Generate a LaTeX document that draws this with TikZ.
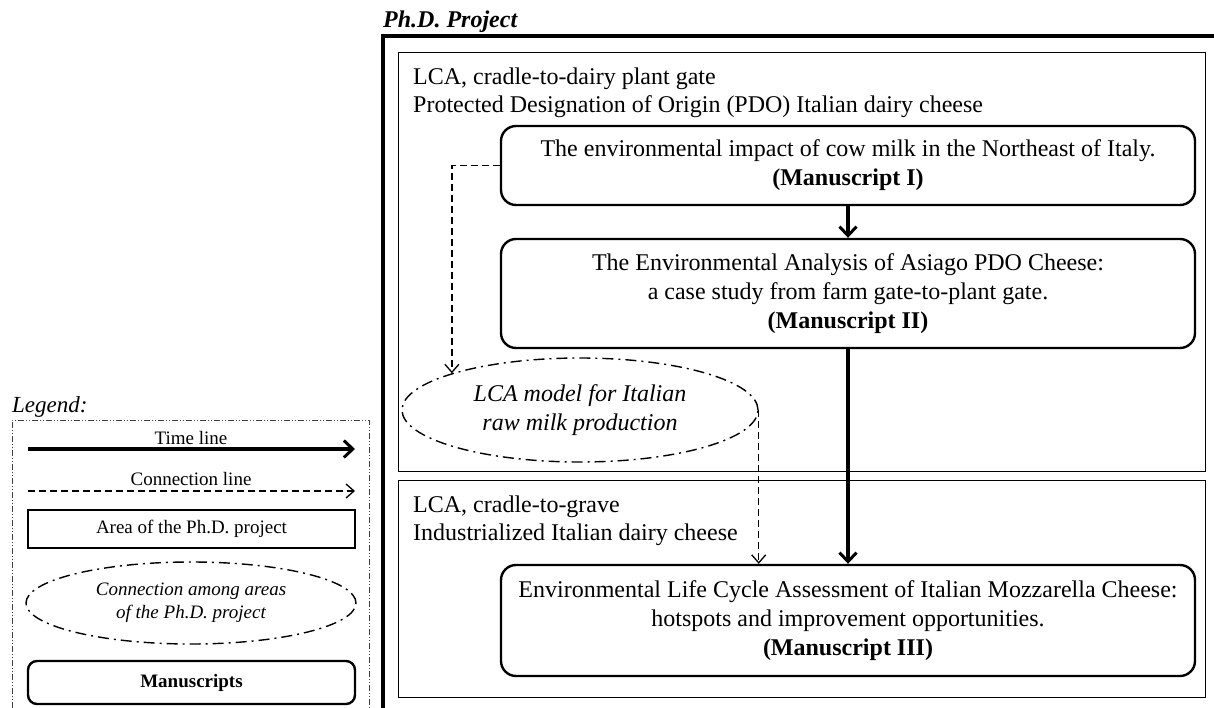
\documentclass[tikz,border=0pt]{standalone}
\usepackage{fontspec}
\setmainfont{Liberation Serif}
\usetikzlibrary{arrows.meta,shapes.geometric}

\tikzset{
  big/.style={font=\fontsize{24}{29}\selectfont},
  small/.style={font=\fontsize{19}{23}\selectfont},
  paper/.style={draw, line width=2.4pt, rounded corners=15pt, align=center,
                inner sep=0pt, big},
  area/.style={draw, line width=1.3pt, inner sep=0pt, anchor=north west},
  linkell/.style={draw, ellipse, line width=1.4pt, inner sep=0pt,
                  dash pattern=on 11pt off 5pt on 2pt off 5pt, align=center},
  timeline/.style={line width=3.2pt, -{Straight Barb[length=9pt,width=17pt,line width=3pt]}},
  linkline/.style={line width=1.3pt, dash pattern=on 7pt off 4pt,
                   -{Straight Barb[length=8pt,width=14pt,line width=1.3pt]}},
  label/.style={inner sep=0pt, anchor=base west, big},
}

\begin{document}
\begin{tikzpicture}[x=1pt, y=-1pt]
\useasboundingbox (0,0) rectangle (1214,708);

% project frame (runs off the page on the right and bottom)
\coordinate (fbl) at (383,708);
\coordinate (ftl) at (383,36);
\coordinate (ftr) at (1214,36);
\draw[line width=3.5pt] (fbl) -- (ftl) -- (ftr);
\node[label, font=\fontsize{24}{29}\selectfont\bfseries\itshape] (ptitle) at (383,28) {Ph.D. Project};

% the two areas
\node[area, minimum width=807pt, minimum height=419pt] (areaA) at (398,52) {};
\node[area, minimum width=807pt, minimum height=217pt] (areaB) at (398,480) {};
\node[label] (areaAt1) at (413,85) {LCA, cradle-to-dairy plant gate};
\node[label] (areaAt2) at (413,113) {Protected Designation of Origin (PDO) Italian dairy cheese};
\node[label] (areaBt1) at (413,512) {LCA, cradle-to-grave};
\node[label] (areaBt2) at (413,540) {Industrialized Italian dairy cheese};

% manuscripts
\node[paper, minimum width=694pt, minimum height=79pt] (m1) at (848,165.5)
  {The environmental impact of cow milk in the Northeast of Italy.\\\textbf{(Manuscript I)}};
\node[paper, minimum width=694pt, minimum height=109pt] (m2) at (848,293.5)
  {The Environmental Analysis of Asiago PDO Cheese:\\a case study from farm gate-to-plant gate.\\\textbf{(Manuscript II)}};
\node[paper, minimum width=694pt, minimum height=111pt] (m3) at (848,620.5)
  {Environmental Life Cycle Assessment of Italian Mozzarella Cheese:\\hotspots and improvement opportunities.\\\textbf{(Manuscript III)}};

% link between the areas
\node[linkell, minimum width=356pt, minimum height=104pt, big] (ell) at (580,410)
  {\itshape LCA model for Italian\\\itshape raw milk production};

% connectors
\draw[timeline] (m1.south) -- (m2.north);
\draw[timeline] (m2.south) -- (m3.north);
\draw[linkline] (m1.west) -| (ell.164);
\draw[linkline] (ell.east) -- (ell.east |- m3.north);

% legend
\node[label, font=\fontsize{23}{28}\selectfont\itshape] (legt) at (12,412) {Legend:};
\coordinate (lgbl) at (12,708);
\coordinate (lgtl) at (12,420);
\coordinate (lgtr) at (369,420);
\coordinate (lgbr) at (369,708);
\draw[line width=0.9pt, black!75, dash pattern=on 6pt off 2pt on 1pt off 2pt on 1pt off 2pt]
  (lgbl) -- (lgtl) -- (lgtr) -- (lgbr);

\coordinate (t1) at (28,449);
\coordinate (t2) at (355,449);
\draw[timeline] (t1) -- (t2);
\node[small, anchor=base] (tlab) at (191,444) {Time line};

\coordinate (c1) at (28,491);
\coordinate (c2) at (355,491);
\draw[linkline] (c1) -- (c2);
\node[small, anchor=base] (clab) at (191,485) {Connection line};

\node[draw, line width=1.3pt, minimum width=327pt, minimum height=38pt, inner sep=0pt, small]
  (larea) at (191.5,529) {Area of the Ph.D. project};
\node[linkell, minimum width=330pt, minimum height=82pt, small] (lell) at (191,603)
  {\itshape Connection among areas\\\itshape of the Ph.D. project};
\node[paper, minimum width=327pt, minimum height=43pt, small, rounded corners=9pt] (lms) at (191.5,682.5)
  {\textbf{Manuscripts}};
\end{tikzpicture}
\end{document}
